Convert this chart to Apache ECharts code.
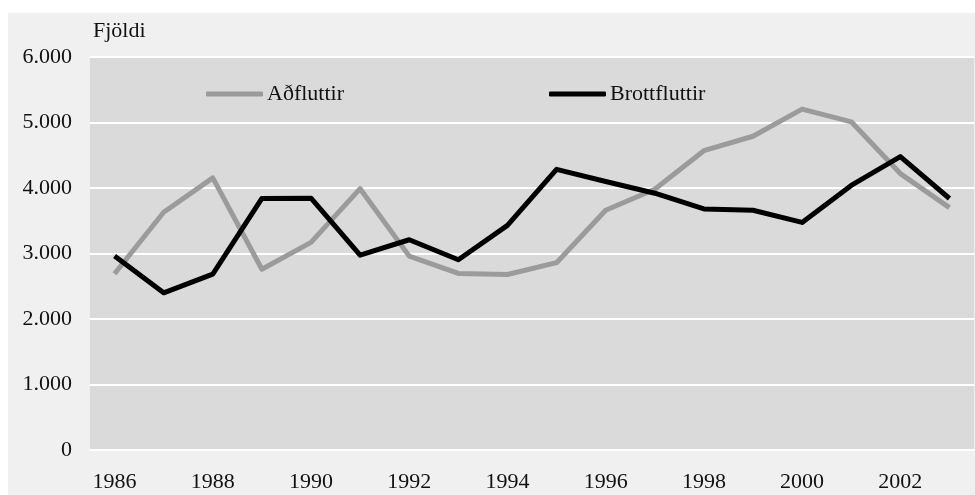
<!DOCTYPE html>
<html>
<head>
<meta charset="utf-8">
<script src="https://cdn.jsdelivr.net/npm/echarts@6/dist/echarts.min.js"></script>
<style>
  html, body { margin: 0; padding: 0; background: #fff; }
  #chart { position: absolute; left: 8px; top: 13px; width: 967px; height: 482px; }
</style>
</head>
<body>
<div id="chart"></div>
<script>
const years = ["1986", "1987", "1988", "1989", "1990", "1991", "1992", "1993", "1994",
  "1995", "1996", "1997", "1998", "1999", "2000", "2001", "2002", "2003"];
const adfluttir = [2690, 3630, 4155, 2760, 3170, 3990, 2960, 2695, 2680,
  2860, 3660, 3980, 4570, 4790, 5205, 5010, 4220, 3700];
const brottfluttir = [2960, 2400, 2685, 3840, 3845, 2975, 3210, 2905, 3430,
  4285, 4100, 3920, 3680, 3660, 3475, 4040, 4480, 3840];

const font = "Liberation Serif";
const fontSize = 22;
const chart = echarts.init(document.getElementById("chart"));

chart.setOption({
  backgroundColor: "#F0F0F0",
  animation: false,
  textStyle: { fontFamily: font },
  title: {
    text: "Fjöldi",
    left: 80,
    top: 2,
    textStyle: { fontFamily: font, fontSize: fontSize, fontWeight: "normal", color: "#111" },
  },
  legend: [
    {
      data: ["Aðfluttir"],
      left: 193,
      top: 65,
      icon: "roundRect",
      itemWidth: 57,
      itemHeight: 5,
      itemGap: 0,
      textStyle: { fontFamily: font, fontSize: fontSize, color: "#111", padding: [0, 0, 0, -1] },
    },
    {
      data: ["Brottfluttir"],
      left: 536,
      top: 65,
      icon: "roundRect",
      itemWidth: 57,
      itemHeight: 5,
      itemGap: 0,
      textStyle: { fontFamily: font, fontSize: fontSize, color: "#111", padding: [0, 0, 0, -1] },
    },
  ],
  grid: {
    left: 82,
    right: 1,
    top: 44,
    bottom: 45,
    show: true,
    backgroundColor: "#DADADA",
    borderWidth: 0,
  },
  xAxis: {
    type: "category",
    data: years,
    boundaryGap: true,
    axisLine: { lineStyle: { color: "#FFFFFF", width: 2 } },
    axisTick: { show: false },
    axisLabel: { interval: 1, margin: 21, fontFamily: font, fontSize: fontSize, color: "#111" },
  },
  yAxis: {
    type: "value",
    min: 0,
    max: 6000,
    interval: 1000,
    axisLine: { show: false },
    axisTick: { show: false },
    splitLine: { lineStyle: { color: "#FFFFFF", width: 2 } },
    axisLabel: {
      margin: 18,
      fontFamily: font,
      fontSize: fontSize,
      color: "#111",
      formatter: (v) => (v === 0 ? "0" : (v / 1000).toFixed(0) + ".000"),
    },
  },
  series: [
    {
      name: "Aðfluttir",
      type: "line",
      data: adfluttir,
      symbol: "none",
      itemStyle: { color: "#9B9B9B" },
      lineStyle: { color: "#9B9B9B", width: 5, join: "round" },
    },
    {
      name: "Brottfluttir",
      type: "line",
      data: brottfluttir,
      symbol: "none",
      itemStyle: { color: "#000000" },
      lineStyle: { color: "#000000", width: 5, join: "round" },
    },
  ],
});
</script>
</body>
</html>
